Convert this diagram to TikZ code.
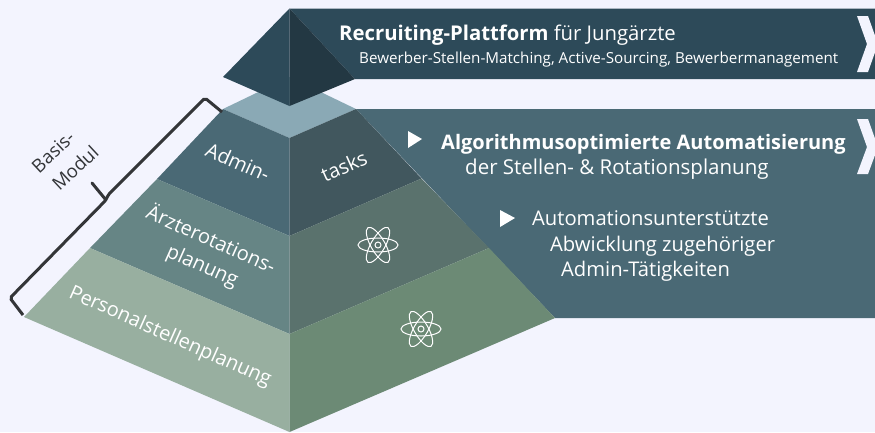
\documentclass[tikz,border=0pt]{standalone}
\usepackage{fontspec}
\setmainfont{Open Sans}
\definecolor{bgcol}{HTML}{F3F4FE}
\definecolor{tipleft}{HTML}{2D4A59}
\definecolor{tipright}{HTML}{233843}
\definecolor{capcol}{HTML}{8AA9B5}
\definecolor{adminleft}{HTML}{4A6975}
\definecolor{adminright}{HTML}{41575E}
\definecolor{midleft}{HTML}{668585}
\definecolor{midright}{HTML}{5A726D}
\definecolor{baseleft}{HTML}{98AFA0}
\definecolor{baseright}{HTML}{6C8A75}
\definecolor{bracketcol}{HTML}{333538}
\tikzset{
  label text/.style={text=white, inner sep=0pt, font=\fontsize{20}{22}\selectfont},
  side text/.style={text=bracketcol, inner sep=0pt, font=\fontsize{18.5}{22}\selectfont},
  banner text/.style={text=white, inner sep=0pt, anchor=base west},
  bullet/.style={fill=white, draw=none},
  chevron/.style={fill=bgcol, draw=none},
  atom/.pic={
    \foreach \ang in {0,60,120}
      \draw[white, line width=1pt] (0,0) ellipse [x radius=20, y radius=7, rotate=\ang];
    \draw[white, line width=1pt] (0,0) circle [radius=3];
  }
}
\begin{document}
\begin{tikzpicture}[x=1pt, y=-1pt]
    \useasboundingbox (0,0) rectangle (875,432);
    \fill[bgcol] (0,0) rectangle (875,432);

    % Corner points of the pyramid
    \coordinate (top) at (289.5,8.5);
    \coordinate (tipL) at (223,77);
    \coordinate (tipB) at (289.5,106);
    \coordinate (tipR) at (355,79);
    \coordinate (capT) at (289.5,77);
    \coordinate (capL) at (223,109);
    \coordinate (capB) at (289.5,138);
    \coordinate (capR) at (356,109);
    \coordinate (adL) at (157,179);
    \coordinate (adB) at (289.5,236);
    \coordinate (adR) at (421.5,178.5);
    \coordinate (midL) at (90,248);
    \coordinate (midB) at (289.5,334);
    \coordinate (midR) at (489,248);
    \coordinate (baseL) at (24,317);
    \coordinate (baseB) at (289.5,432);
    \coordinate (baseR) at (555,318);

    % Banners behind the pyramid
    \fill[tipleft] (top) -- (875,8.5) -- (875,79) -- (tipR) -- cycle;
    \fill[adminleft] (capR) -- (875,109) -- (875,318) -- (baseR) -- cycle;

    % Layers
    \fill[capcol] (capT) -- (capR) -- (capB) -- (capL) -- cycle;
    \fill[tipleft] (top) -- (tipB) -- (tipL) -- cycle;
    \fill[tipright] (top) -- (tipR) -- (tipB) -- cycle;
    \fill[adminleft] (capL) -- (capB) -- (adB) -- (adL) -- cycle;
    \fill[adminright] (capR) -- (capB) -- (adB) -- (adR) -- cycle;
    \fill[midleft] (adL) -- (adB) -- (midB) -- (midL) -- cycle;
    \fill[midright] (adR) -- (adB) -- (midB) -- (midR) -- cycle;
    \fill[baseleft] (midL) -- (midB) -- (baseB) -- (baseL) -- cycle;
    \fill[baseright] (midR) -- (midB) -- (baseB) -- (baseR) -- cycle;

    % Layer labels
    \node[label text, rotate=-24] (admin) at (238,162) {Admin-};
    \node[label text, rotate=24] (tasks) at (344,166) {tasks};
    \node[label text, rotate=-24] (rota) at (212,238) {Ärzterotations-};
    \node[label text, rotate=-24] (plan) at (202,267) {planung};
    \node[label text, rotate=-24] (staff) at (170,337) {Personalstellenplanung};

    % Bracket on the left
    \coordinate (brA) at (222,112);
    \coordinate (brB) at (205,98);
    \coordinate (brC) at (108,195);
    \coordinate (brF) at (106,200);
    \coordinate (brD) at (10,298);
    \coordinate (brE) at (23,315);
    \coordinate (tick) at (92,183);
    \draw[bracketcol, line width=3pt, rounded corners=2pt] (brA) -- (brB) -- (brC) -- (brF) -- (brD) -- (brE);
    \draw[bracketcol, line width=3pt, line cap=round] (tick) -- (brF);
    \node[side text, rotate=43] (basis) at (53,152) {Basis-};
    \node[side text, rotate=43] (modul) at (75,168) {Modul};

    % Atom icons
    \foreach \px/\py in {378/245, 421/329}
      \pic at (\px,\py) {atom};

    % Top banner
    \node[banner text, font=\fontsize{20.3}{22}\selectfont] (recruit) at (339,40) {\textbf{Recruiting-Plattform} für Jungärzte};
    \node[banner text, font=\fontsize{15.2}{17}\selectfont] (recruitsub) at (359,63) {Bewerber-Stellen-Matching, Active-Sourcing, Bewerbermanagement};

    % Lower banner
    \node[banner text, font=\bfseries\fontsize{20}{22}\selectfont] (algo) at (441,149) {Algorithmusoptimierte Automatisierung};
    \node[banner text, font=\fontsize{20.5}{22}\selectfont] (algosub) at (465,174) {der Stellen- \& Rotationsplanung};
    \node[banner text, font=\fontsize{20.2}{22}\selectfont] (auto1) at (532,225) {Automationsunterstützte};
    \node[banner text, font=\fontsize{20.2}{22}\selectfont] (auto2) at (550,251) {Abwicklung zugehöriger};
    \node[banner text, font=\fontsize{20.2}{22}\selectfont] (auto3) at (561,276) {Admin-Tätigkeiten};
    \fill[bullet] (408,131) -- (422,139) -- (408,148) -- cycle;
    \fill[bullet] (500,210) -- (515,218) -- (500,227) -- cycle;

    % Chevrons
    \fill[chevron] (857,16) -- (868,16) -- (878,44) -- (868,72) -- (857,72) -- (867,44) -- cycle;
    \fill[chevron] (857,119) -- (868,119) -- (878,147) -- (868,174) -- (857,174) -- (867,147) -- cycle;
\end{tikzpicture}
\end{document}
